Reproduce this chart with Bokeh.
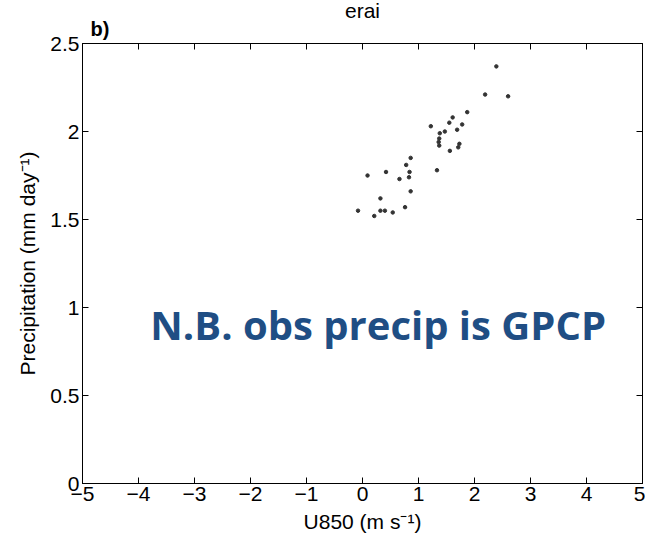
from bokeh.plotting import figure
from bokeh.models import Range1d, FixedTicker, LinearAxis, Label, Title
from bokeh.embed import file_html
from bokeh.resources import INLINE

# data
u850 = [2.39, 2.19, 2.60, 1.87, 1.61, 1.55, 1.22, 1.78, 1.69, 1.47, 1.38,
        1.37, 1.36, 1.73, 1.37, 1.71, 1.56, 0.86, 0.78, 1.33, 0.42, 0.09,
        0.84, 0.83, 0.66, 0.86, 0.32, -0.08, 0.32, 0.40, 0.54, 0.76, 0.21]
precip = [2.37, 2.21, 2.20, 2.11, 2.08, 2.05, 2.03, 2.04, 2.01, 2.00, 1.99,
          1.96, 1.94, 1.93, 1.92, 1.91, 1.89, 1.85, 1.81, 1.78, 1.77, 1.75,
          1.77, 1.74, 1.73, 1.66, 1.62, 1.55, 1.55, 1.55, 1.54, 1.57, 1.52]

x_ticks = [-5, -4, -3, -2, -1, 0, 1, 2, 3, 4, 5]
x_tick_labels = ["\u22125", "\u22124", "\u22123", "\u22122", "\u22121", "0", "1", "2", "3", "4", "5"]
y_ticks = [0, 0.5, 1, 1.5, 2, 2.5]
y_tick_labels = ["0", "0.5", "1", "1.5", "2", "2.5"]

title_text = "erai"
panel_text = "b)"
note_text = "N.B. obs precip is GPCP"
x_label = "U850 (m s\u207b\u00b9)"
y_label = "Precipitation (mm day\u207b\u00b9)"

FONT = "Liberation Sans"

p = figure(width=645, height=544, output_backend="svg", toolbar_location=None,
           x_range=Range1d(-5, 5), y_range=Range1d(0, 2.5),
           x_axis_location=None, y_axis_location=None,
           min_border_left=82, min_border_right=3, min_border_top=43, min_border_bottom=61)
p.title.text = title_text
p.title.align = "center"
p.title.text_font = FONT
p.title.text_font_size = "21px"
p.title.text_font_style = "normal"
p.title.text_color = "black"
p.title.standoff = -20
p.xgrid.visible = False
p.ygrid.visible = False
p.outline_line_color = "black"
p.outline_line_width = 1
p.background_fill_color = "white"
p.border_fill_color = "white"

def style(ax, ticks, labels, show):
    ax.ticker = FixedTicker(ticks=ticks)
    if show:
        ax.major_label_overrides = {t: l for t, l in zip(ticks, labels)}
    else:
        ax.major_label_overrides = {t: "" for t in ticks}
    ax.major_tick_in = 6
    ax.major_tick_out = 0
    ax.minor_tick_line_color = None
    ax.axis_line_color = "black"
    ax.major_tick_line_color = "black"
    ax.major_label_text_font = FONT
    ax.major_label_text_font_size = "21px"
    ax.major_label_text_color = "black"
    ax.axis_label_text_font = FONT
    ax.axis_label_text_font_size = "21px"
    ax.axis_label_text_font_style = "normal"
    ax.axis_label_text_color = "black"

xb = LinearAxis(axis_label=x_label)
style(xb, x_ticks, x_tick_labels, True)
xb.major_label_standoff = 3
xb.axis_label_standoff = 6
p.add_layout(xb, "below")

yl = LinearAxis(axis_label=y_label)
style(yl, y_ticks, y_tick_labels, True)
yl.major_label_standoff = 3
yl.axis_label_standoff = 8
p.add_layout(yl, "left")

xt = LinearAxis()
style(xt, x_ticks, x_tick_labels, False)
xt.major_label_standoff = 0
p.add_layout(xt, "above")

p.add_layout(Title(text=panel_text, align="left", offset=8, text_font=FONT,
                   text_font_size="20px", text_font_style="bold",
                   text_color="black", standoff=8), "above")

yr = LinearAxis()
style(yr, y_ticks, y_tick_labels, False)
yr.major_label_standoff = 0
p.add_layout(yr, "right")

p.scatter(u850, precip, size=3.5, color="#333333", marker="circle")

p.add_layout(Label(x=0.28, y=0.905, text=note_text, text_font="Open Sans",
                   text_font_size="40px", text_font_style="bold",
                   text_color="#1F4E84", text_align="center",
                   text_baseline="alphabetic"))

open("out.html", "w").write(file_html(p, INLINE))
